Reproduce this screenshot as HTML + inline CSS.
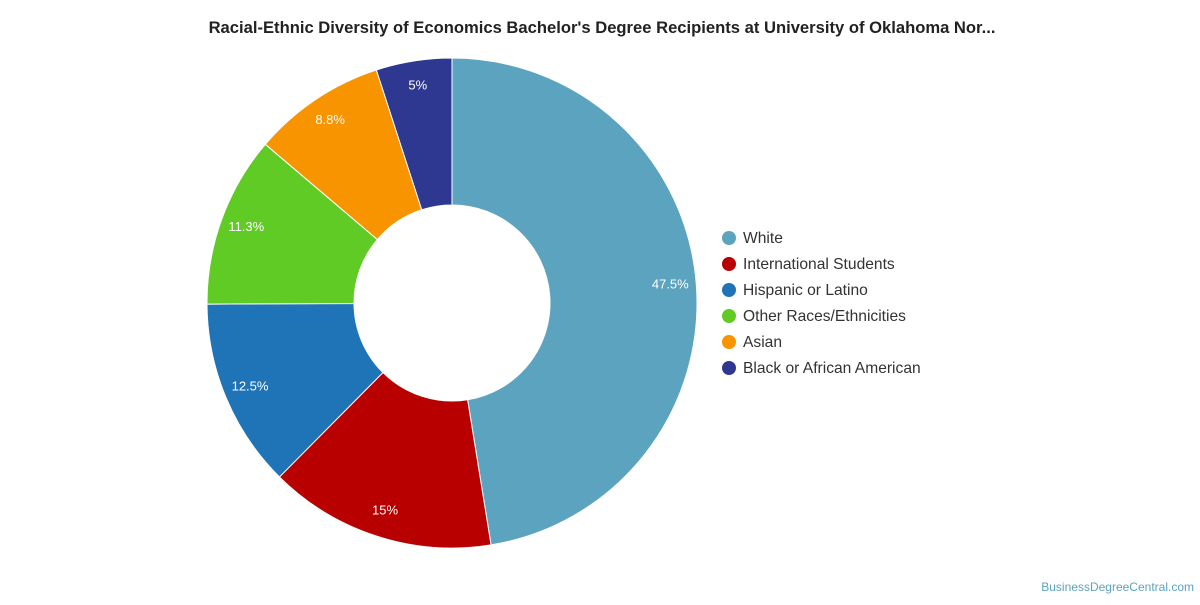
<!DOCTYPE html>
<html><head><meta charset="utf-8"><style>
body{margin:0;background:#fff;width:1200px;height:600px;overflow:hidden;font-family:"Liberation Sans",sans-serif}
</style></head><body>
<svg width="1200" height="600">
<text x="602" y="33" text-anchor="middle" font-size="16.6" font-weight="bold" fill="#222">Racial-Ethnic Diversity of Economics Bachelor's Degree Recipients at University of Oklahoma Nor...</text>
<g id="slices"></g>
<g id="legend"></g>
<text x="1194" y="591" text-anchor="end" font-size="12" fill="#5ba3c0">BusinessDegreeCentral.com</text>
</svg>
<script>
const categories=["White","International Students","Hispanic or Latino","Other Races/Ethnicities","Asian","Black or African American"];
const values=[47.5,15,12.5,11.3,8.8,5];
const labels=["47.5%","15%","12.5%","11.3%","8.8%","5%"];
const colors=["#5ca3c0","#b90000","#1f74b8","#60cb24","#f79400","#2e3891"];
const cx=452,cy=303,R=245,r=98,LR=219;
const ns="http://www.w3.org/2000/svg";
const g=document.getElementById('slices'),lg=document.getElementById('legend');
const total=values.reduce((a,b)=>a+b,0);
let a=0;
function pt(rad,ang){return [cx+rad*Math.sin(ang),cy-rad*Math.cos(ang)];}
values.forEach((v,i)=>{
 const a0=a,a1=a+v/total*2*Math.PI;a=a1;
 const large=(a1-a0)>Math.PI?1:0;
 const p0=pt(R,a0),p1=pt(R,a1),q1=pt(r,a1),q0=pt(r,a0);
 const p=document.createElementNS(ns,'path');
 p.setAttribute('d',`M${p0}A${R},${R} 0 ${large} 1 ${p1}L${q1}A${r},${r} 0 ${large} 0 ${q0}Z`);
 p.setAttribute('fill',colors[i]);p.setAttribute('stroke','#fff');p.setAttribute('stroke-width','1');
 
 
 g.appendChild(p);
 const m=pt(LR,(a0+a1)/2);
 const t=document.createElementNS(ns,'text');
 t.setAttribute('x',m[0]);t.setAttribute('y',m[1]+3);t.setAttribute('text-anchor','middle');
 t.setAttribute('font-size','13');t.setAttribute('fill','#fff');t.textContent=labels[i];
 
 
 g.appendChild(t);
 const y=238+i*26;
 const c=document.createElementNS(ns,'circle');
 c.setAttribute('cx',729);c.setAttribute('cy',y);c.setAttribute('r',7);c.setAttribute('fill',colors[i]);
 
 
 lg.appendChild(c);
 const lt=document.createElementNS(ns,'text');
 lt.setAttribute('x',743);lt.setAttribute('y',y+5);lt.setAttribute('font-size','15.6');lt.setAttribute('fill','#333');
 lt.textContent=categories[i];
 
 
 lg.appendChild(lt);
});
</script>
</body></html>
